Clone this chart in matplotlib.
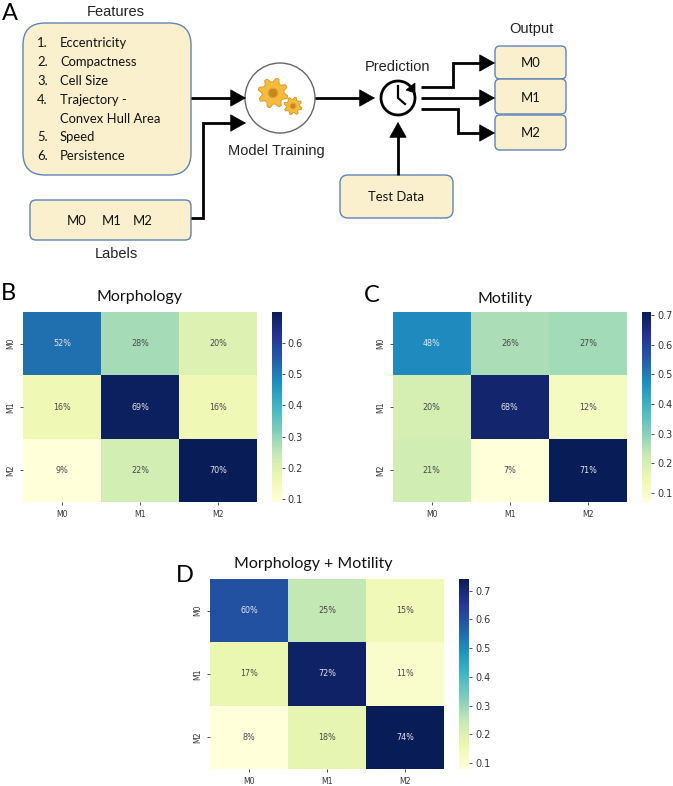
import numpy as np
import matplotlib
matplotlib.use('Agg')
import matplotlib.pyplot as plt
from matplotlib.patches import FancyBboxPatch, Circle, Polygon, Arc

W, H = 673, 786
DPI = 100

classes = ['M0', 'M1', 'M2']
morphology = [[0.52, 0.28, 0.20], [0.16, 0.69, 0.16], [0.09, 0.22, 0.70]]
motility = [[0.48, 0.26, 0.27], [0.20, 0.68, 0.12], [0.21, 0.07, 0.71]]
combined = [[0.60, 0.25, 0.15], [0.17, 0.72, 0.11], [0.08, 0.18, 0.74]]
feature_nums = ['1.', '2.', '3.', '4.', '', '5.', '6.']
feature_names = ['Eccentricity', 'Compactness', 'Cell Size', 'Trajectory -',
                 'Convex Hull Area', 'Speed', 'Persistence']

BOX_FILL = '#faf0cd'
BOX_EDGE = '#5f84b8'
SANS = 'Liberation Sans'
BODY = 'Lato'

fig = plt.figure(figsize=(W / DPI, H / DPI), dpi=DPI, facecolor='white')

# overlay in pixel coordinates for the schematic
bg = fig.add_axes([0, 0, 1, 1])
bg.set_xlim(0, W)
bg.set_ylim(H, 0)
bg.axis('off')


def px_axes(x0, y0, x1, y1):
    return fig.add_axes([x0 / W, 1 - y1 / H, (x1 - x0) / W, (y1 - y0) / H])


def box(x0, y0, x1, y1, r):
    bg.add_patch(FancyBboxPatch((x0 + r, y0 + r), x1 - x0 - 2 * r, y1 - y0 - 2 * r,
                                boxstyle=f'round,pad={r},rounding_size={r}',
                                fc=BOX_FILL, ec=BOX_EDGE, lw=1.0))


def arrow(points):
    xs = [p[0] for p in points]
    ys = [p[1] for p in points]
    bg.plot(xs[:-1] + [xs[-1] - np.sign(xs[-1] - xs[-2]) * 6],
            ys[:-1] + [ys[-1] - np.sign(ys[-1] - ys[-2]) * 6],
            color='black', lw=2.0, solid_joinstyle='miter', solid_capstyle='butt')
    bg.annotate('', xy=points[-1], xytext=(xs[-1] - np.sign(xs[-1] - xs[-2]) * 12,
                                           ys[-1] - np.sign(ys[-1] - ys[-2]) * 12),
                arrowprops=dict(arrowstyle='-|>,head_length=0.75,head_width=0.42', color='black',
                                lw=0.5, shrinkA=0, shrinkB=0, mutation_scale=14))


def gear(cx, cy, r, teeth, zorder=4):
    ang = np.linspace(0, 2 * np.pi, teeth * 4, endpoint=False) + 0.2
    rad = np.tile([r, r, r * 0.74, r * 0.74], teeth)
    bg.add_patch(Polygon(np.c_[cx + rad * np.cos(ang), cy + rad * np.sin(ang)],
                         fc='#f3bc3e', ec='#d98f1e', lw=0.6, zorder=zorder))
    bg.add_patch(Circle((cx, cy), r * 0.32, fc='#c9861c', ec='#e2a52f', lw=0.8, zorder=zorder + 1))


def heatmap(values, rect, cbar_rect, ticks):
    values = np.array(values)
    ax = px_axes(*rect)
    mesh = ax.pcolormesh(values, cmap='YlGnBu', vmin=values.min(), vmax=values.max(),
                         edgecolors='none')
    ax.set_ylim(3, 0)
    ax.set_xticks(np.arange(3) + 0.5, classes)
    ax.set_yticks(np.arange(3) + 0.5, classes, rotation=90, va='center')
    ax.tick_params(labelsize=5.6, length=2.5, width=0.6, pad=3, colors='#333333')
    for side in ax.spines.values():
        side.set_visible(False)
    mid = (values.min() + values.max()) / 2
    for i in range(3):
        for j in range(3):
            ax.text(j + 0.5, i + 0.5, f'{values[i, j]:.0%}', ha='center', va='center', fontsize=5.8,
                    color='#e6e6e6' if values[i, j] > mid - 0.03 else '#484848')
    cax = px_axes(*cbar_rect)
    cb = fig.colorbar(mesh, cax=cax, ticks=ticks)
    cb.outline.set_visible(False)
    cb.ax.tick_params(labelsize=7, length=2.5, width=0.6, pad=2, colors='#333333')
    return ax


# panel A
box(23, 23, 191, 175, 22)
box(30, 200, 191, 240, 6)
box(340, 175, 453, 218, 8)
box(495, 46, 566, 79, 5)
box(495, 79, 566, 114, 5)
box(495, 115, 566, 150, 5)

row_y = [43, 62, 81, 100, 119, 137, 156]
for y, num, name in zip(row_y, feature_nums, feature_names):
    bg.text(37, y, num, fontsize=9.4, family=BODY, va='center', color='#111111')
    bg.text(60, y, name, fontsize=9.4, family=BODY, va='center', color='#111111')

for x, label in zip([77, 112, 143], classes):
    bg.text(x, 221, label, fontsize=9.4, family=BODY, ha='center', va='center', color='#111111')
for y, label in zip([63, 98, 133], classes):
    bg.text(531, y, label, fontsize=9.4, family=BODY, ha='center', va='center', color='#111111')

bg.text(116, 12, 'Features', fontsize=10.5, family=SANS, ha='center', va='center', color='#222222')
bg.text(116, 254, 'Labels', fontsize=10.5, family=SANS, ha='center', va='center', color='#222222')
bg.text(276, 151, 'Model Training', fontsize=10.5, family=SANS, ha='center', va='center', color='#222222')
bg.text(398, 67, 'Prediction', fontsize=10.5, family=SANS, ha='center', va='center', color='#222222')
bg.text(531, 29, 'Output', fontsize=10.5, family=SANS, ha='center', va='center', color='#222222')
bg.text(436, 197, 'Test Data', fontsize=9.4, family=BODY, ha='center', va='center', color='#111111').set_x(396)

bg.add_patch(Circle((280, 98), 35, fc='white', ec='#666666', lw=1.0))
gear(273, 93, 15, 8)
gear(293, 106, 9, 8)

arrow([(191, 98), (246, 98)])
arrow([(191, 218), (203, 218), (203, 123), (246, 123)])
arrow([(315, 98), (375, 98)])
arrow([(398, 175), (398, 122)])
arrow([(421, 87), (453, 87), (453, 63), (495, 63)])
arrow([(421, 98), (495, 98)])
arrow([(421, 109), (458, 109), (458, 133), (495, 133)])

# clock
bg.add_patch(Arc((398, 98), 34, 34, theta1=-20, theta2=320, color='black', lw=2.0))
bg.plot([398, 398, 405], [86, 98, 104], color='black', lw=1.6)
bg.add_patch(Polygon([[415, 83], [415, 93], [406, 90]], fc='black', ec='black', lw=0.5))

# heatmaps
heatmap(morphology, (23, 312, 257.5, 502), (272, 312, 281.5, 502), [0.1, 0.2, 0.3, 0.4, 0.5, 0.6])
heatmap(motility, (392.7, 312, 627, 502), (641.7, 312, 651, 502), [0.1, 0.2, 0.3, 0.4, 0.5, 0.6, 0.7])
heatmap(combined, (210, 579, 444, 769), (458.7, 579, 468.7, 769), [0.1, 0.2, 0.3, 0.4, 0.5, 0.6, 0.7])

bg.text(140, 297, 'Morphology', fontsize=11.5, family=BODY, ha='center', va='center', color='#111111')
bg.text(505, 299, 'Motility', fontsize=11.5, family=BODY, ha='center', va='center', color='#111111')
bg.text(313, 564, 'Morphology + Motility', fontsize=11.5, family=BODY, ha='center', va='center', color='#111111')

bg.text(2, 13, 'A', fontsize=17, family=BODY, va='center', color='black')
bg.text(1, 293, 'B', fontsize=17, family=BODY, va='center', color='black')
bg.text(364, 295, 'C', fontsize=17, family=BODY, va='center', color='black')
bg.text(176, 575, 'D', fontsize=17, family=BODY, va='center', color='black')

fig.savefig('out.png', dpi=DPI)
